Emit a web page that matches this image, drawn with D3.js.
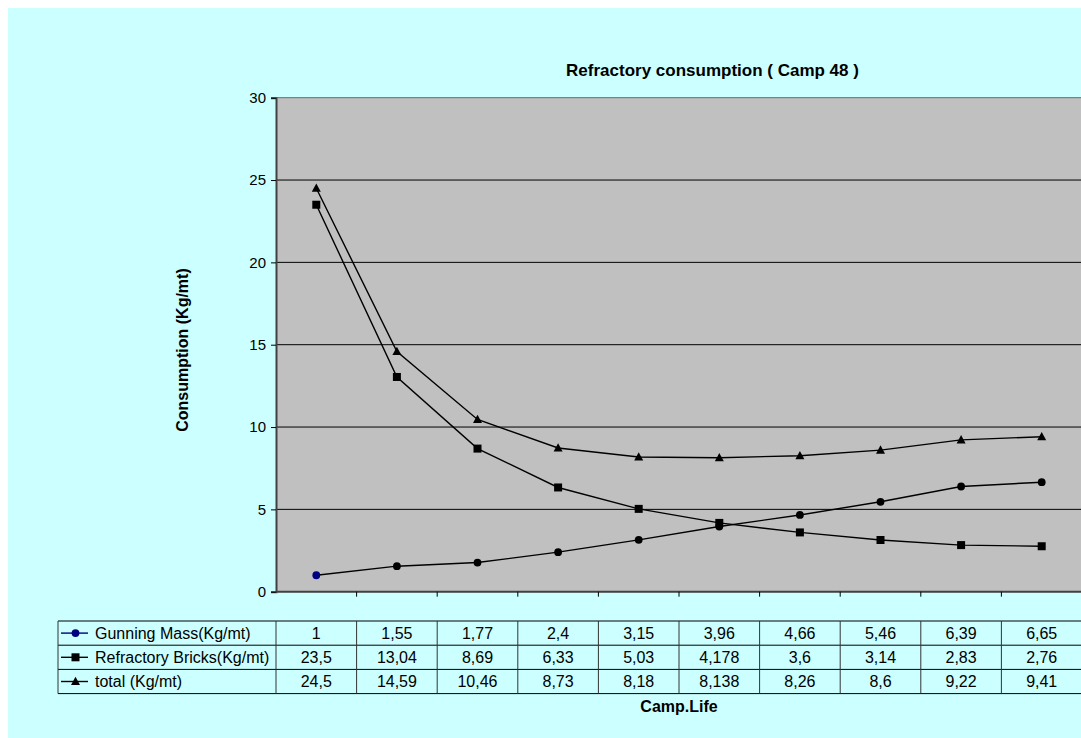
<!DOCTYPE html>
<html>
<head>
<meta charset="utf-8">
<script src="https://cdn.jsdelivr.net/npm/d3@7"></script>
<style>
  html, body { margin: 0; padding: 0; background: #fff; }
  svg { display: block; font-family: "Liberation Sans", Arial, sans-serif; }
</style>
</head>
<body>
<svg id="chart" width="1081" height="738"></svg>
<script>
// Campaign life steps (unlabelled columns of the data table)
const categories = [1, 2, 3, 4, 5, 6, 7, 8, 9, 10];
const gunningMass = [1, 1.55, 1.77, 2.4, 3.15, 3.96, 4.66, 5.46, 6.39, 6.65];
const refractoryBricks = [23.5, 13.04, 8.69, 6.33, 5.03, 4.178, 3.6, 3.14, 2.83, 2.76];
const total = [24.5, 14.59, 10.46, 8.73, 8.18, 8.138, 8.26, 8.6, 9.22, 9.41];
const seriesNames = ["Gunning Mass(Kg/mt)", "Refractory Bricks(Kg/mt)", "total (Kg/mt)"];
const yTicks = [0, 5, 10, 15, 20, 25, 30];

const series = [
  { name: seriesNames[0], values: gunningMass, marker: "circle" },
  { name: seriesNames[1], values: refractoryBricks, marker: "square" },
  { name: seriesNames[2], values: total, marker: "triangle" }
];

const svg = d3.select("#chart");
const plot = { left: 276, right: 1082, top: 97.7, bottom: 591.7 };

// chart background
svg.append("rect").attr("x", 8).attr("y", 8).attr("width", 1081 - 8).attr("height", 738 - 8)
  .attr("fill", "#CCFFFF");

const x = d3.scaleBand().domain(categories).range([plot.left, plot.right]);
const y = d3.scaleLinear().domain([0, 30]).range([plot.bottom, plot.top]);

// plot area
svg.append("rect").attr("x", plot.left).attr("y", plot.top)
  .attr("width", plot.right - plot.left).attr("height", plot.bottom - plot.top)
  .attr("fill", "#C0C0C0");
svg.append("line").attr("x1", plot.left).attr("x2", plot.right)
  .attr("y1", plot.top).attr("y2", plot.top).attr("stroke", "#808080").attr("stroke-width", 1.2);

// horizontal gridlines
svg.append("g").selectAll("line").data(yTicks.filter(t => t > 0 && t < 30)).join("line")
  .attr("x1", plot.left).attr("x2", plot.right)
  .attr("y1", d => y(d)).attr("y2", d => y(d))
  .attr("stroke", "#000").attr("stroke-width", 1);

// y axis
const yAxis = svg.append("g").attr("transform", `translate(${plot.left},0)`)
  .call(d3.axisLeft(y).tickValues(yTicks).tickSize(5).tickPadding(5).tickFormat(d3.format("d")));
yAxis.select(".domain").attr("stroke", "#404040").attr("stroke-width", 2);
yAxis.selectAll(".tick line").attr("stroke", "#000");
yAxis.selectAll(".tick text").attr("font-size", 15).attr("fill", "#000")
  .attr("font-family", "Liberation Sans, Arial, sans-serif");

// x axis line with ticks on column boundaries
const boundaries = categories.map(c => x(c)).concat([plot.right]);
svg.append("line").attr("x1", plot.left).attr("x2", plot.right)
  .attr("y1", plot.bottom).attr("y2", plot.bottom).attr("stroke", "#404040").attr("stroke-width", 2);
svg.append("g").selectAll("line").data(boundaries.slice(1)).join("line")
  .attr("x1", d => d).attr("x2", d => d)
  .attr("y1", plot.bottom).attr("y2", plot.bottom + 5)
  .attr("stroke", "#000");

// series lines
const line = d3.line().x((d, i) => x(categories[i]) + x.bandwidth() / 2).y(d => y(d));
const lineG = svg.append("g");
series.forEach(s => {
  lineG.append("path").datum(s.values).attr("d", line)
    .attr("fill", "none").attr("stroke", "#000").attr("stroke-width", 1.4);
});

function drawMarker(g, type, cx, cy, color) {
  if (type === "circle") {
    g.append("circle").attr("cx", cx).attr("cy", cy).attr("r", 3.9).attr("fill", color);
  } else if (type === "square") {
    g.append("rect").attr("x", cx - 4).attr("y", cy - 4).attr("width", 8).attr("height", 8).attr("fill", color);
  } else {
    g.append("path").attr("d", `M${cx},${cy - 4.8}L${cx + 4.5},${cy + 3.6}L${cx - 4.5},${cy + 3.6}Z`).attr("fill", color);
  }
}

// markers (first gunning mass point is drawn in navy)
const markG = svg.append("g");
series.forEach((s, si) => {
  s.values.forEach((v, i) => {
    const color = (si === 0 && i === 0) ? "#000080" : "#000";
    drawMarker(markG, s.marker, x(categories[i]) + x.bandwidth() / 2, y(v), color);
  });
});

// data table
const table = { left: 58, top: 621, rowH: 24.2 };
const tG = svg.append("g");
const tableBottom = table.top + table.rowH * series.length;
for (let r = 0; r <= series.length; r++) {
  tG.append("line").attr("x1", table.left).attr("x2", plot.right)
    .attr("y1", table.top + r * table.rowH).attr("y2", table.top + r * table.rowH)
    .attr("stroke", "#000").attr("stroke-width", 1);
}
[table.left].concat(boundaries).forEach(bx => {
  tG.append("line").attr("x1", bx).attr("x2", bx)
    .attr("y1", table.top).attr("y2", tableBottom)
    .attr("stroke", "#333").attr("stroke-width", 1);
});
const fmt = v => String(v).replace(".", ",");
series.forEach((s, si) => {
  const cy = table.top + si * table.rowH + table.rowH / 2;
  const legendColor = si === 0 ? "#000080" : "#000";
  tG.append("line").attr("x1", 61).attr("x2", 88).attr("y1", cy).attr("y2", cy)
    .attr("stroke", legendColor).attr("stroke-width", 1.4);
  drawMarker(tG, s.marker, 75.5, cy, legendColor);
  tG.append("text").attr("x", 95).attr("y", cy + 5.6).attr("font-size", 16).attr("fill", "#000")
    .text(s.name);
  s.values.forEach((v, i) => {
    tG.append("text").attr("x", x(categories[i]) + x.bandwidth() / 2).attr("y", cy + 5.6)
      .attr("text-anchor", "middle").attr("font-size", 16).attr("fill", "#000")
      .text(fmt(v));
  });
});

// titles
svg.append("text").attr("x", 712.5).attr("y", 76).attr("text-anchor", "middle")
  .attr("font-size", 17).attr("font-weight", "bold").text("Refractory consumption ( Camp 48 )");
svg.append("text").attr("transform", "translate(188,350) rotate(-90)").attr("text-anchor", "middle")
  .attr("font-size", 16).attr("font-weight", "bold").text("Consumption (Kg/mt)");
svg.append("text").attr("x", 679).attr("y", 712).attr("text-anchor", "middle")
  .attr("font-size", 16).attr("font-weight", "bold").text("Camp.Life");
</script>
</body>
</html>
